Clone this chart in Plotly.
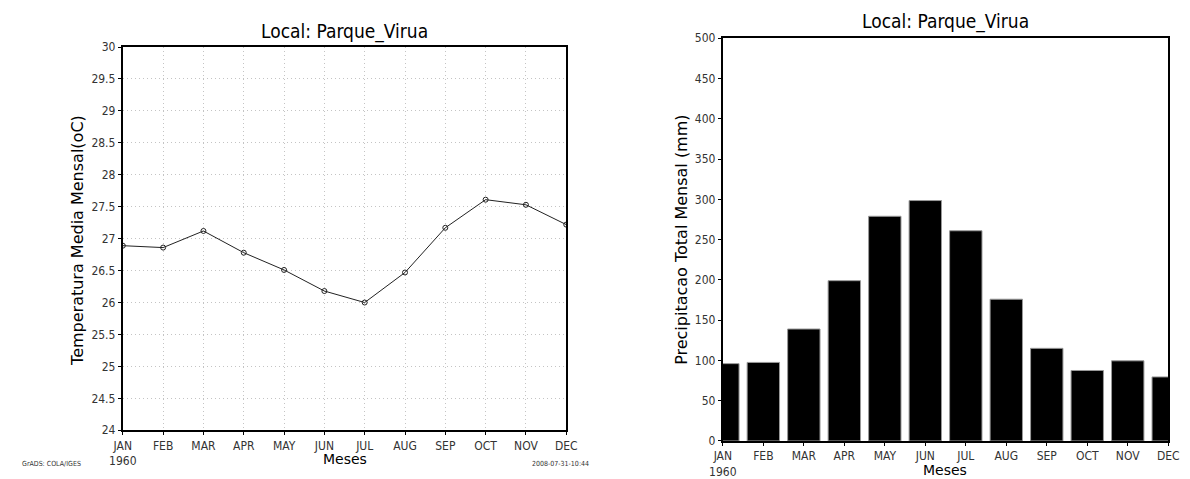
import plotly.graph_objects as go

months = ["JAN", "FEB", "MAR", "APR", "MAY", "JUN", "JUL", "AUG", "SEP", "OCT", "NOV", "DEC"]
month_labels = ["JAN<br>1960"] + months[1:]
temperature = [26.89, 26.86, 27.12, 26.78, 26.51, 26.18, 26.00, 26.47, 27.17, 27.61, 27.53, 27.22]
precipitation = [96, 97.5, 139, 199, 279, 298.5, 261, 176, 115, 87.5, 99.5, 79.5]
temp_ticks = [24, 24.5, 25, 25.5, 26, 26.5, 27, 27.5, 28, 28.5, 29, 29.5, 30]
temp_tick_text = ["24", "24.5", "25", "25.5", "26", "26.5", "27", "27.5", "28", "28.5", "29", "29.5", "30"]
prec_ticks = [0, 50, 100, 150, 200, 250, 300, 350, 400, 450, 500]

# page is 1190x479; the browser's default 8px body margin offsets the figure
OFF = 8
W, H = 1190 - OFF, 479 - OFF
idx = list(range(len(months)))
FONT = "Liberation Sans Narrow, DejaVu Sans Condensed, Arial Narrow, sans-serif"
BOLD = "DejaVu Sans, sans-serif"

def px(x):
    return (x - OFF) / W

def py(y):
    return 1 - (y - OFF) / H

fig = go.Figure()

fig.add_trace(go.Scatter(
    x=idx, y=temperature, mode="lines+markers",
    line=dict(color="#222", width=1),
    marker=dict(symbol="circle-open", size=5, color="#222", line=dict(width=1)),
    xaxis="x", yaxis="y", showlegend=False, cliponaxis=True,
))

fig.add_trace(go.Bar(
    x=idx, y=precipitation, width=0.8,
    marker=dict(color="black", line=dict(color="#999", width=1)),
    xaxis="x2", yaxis="y2", showlegend=False,
))

axis_common = dict(
    showline=True, linecolor="black", linewidth=2, mirror=True,
    ticks="outside", ticklen=3, tickcolor="black", tickwidth=1,
    tickfont=dict(family=FONT, size=12, color="#333"),
    zeroline=False,
)
grid = dict(showgrid=True, gridcolor="#c4c4c4", griddash="1px,3px", gridwidth=1)

fig.update_layout(
    width=W, height=H,
    margin=dict(l=0, r=0, t=0, b=0),
    paper_bgcolor="white", plot_bgcolor="white",
    xaxis=dict(domain=[px(111), px(564)], anchor="y", range=[0, 11],
               tickmode="array", tickvals=idx, ticktext=month_labels,
               **grid, **axis_common),
    yaxis=dict(domain=[py(436), py(41)], anchor="x", range=[24, 30],
               tickmode="array", tickvals=temp_ticks, ticktext=temp_tick_text,
               **grid, **axis_common),
    xaxis2=dict(domain=[px(724), px(1179)], anchor="y2", range=[0, 11],
                tickmode="array", tickvals=idx, ticktext=month_labels,
                showgrid=False, **axis_common),
    yaxis2=dict(domain=[py(447), py(32)], anchor="x2", range=[0, 500],
                tickmode="array", tickvals=prec_ticks,
                showgrid=False, **axis_common),
)

def ann(text, x, y, size, xanchor="center", yanchor="middle", angle=0, color="black", family=FONT):
    fig.add_annotation(text=text, x=px(x), y=py(y), xref="paper", yref="paper",
                       showarrow=False, xanchor=xanchor, yanchor=yanchor, textangle=angle,
                       font=dict(family=family, size=size, color=color))

ann("Local: Parque_Virua", 337, 25, 19)
ann("Local: Parque_Virua", 951, 15, 19)
ann("Temperatura Media Mensal(oC)", 64, 240, 16, angle=-90, family=BOLD)
ann("Precipitacao Total Mensal (mm)", 681, 240, 16, angle=-90, family=BOLD)
ann("Meses", 338, 466, 14, family=BOLD)
ann("Meses", 951, 467, 14, yanchor="top", family=BOLD)
ann("GrADS: COLA/IGES", 6, 471, 7, xanchor="left", color="#333")
ann("2008-07-31-10:44", 589, 471, 7, xanchor="right", color="#333")

fig.write_html("out.html")
